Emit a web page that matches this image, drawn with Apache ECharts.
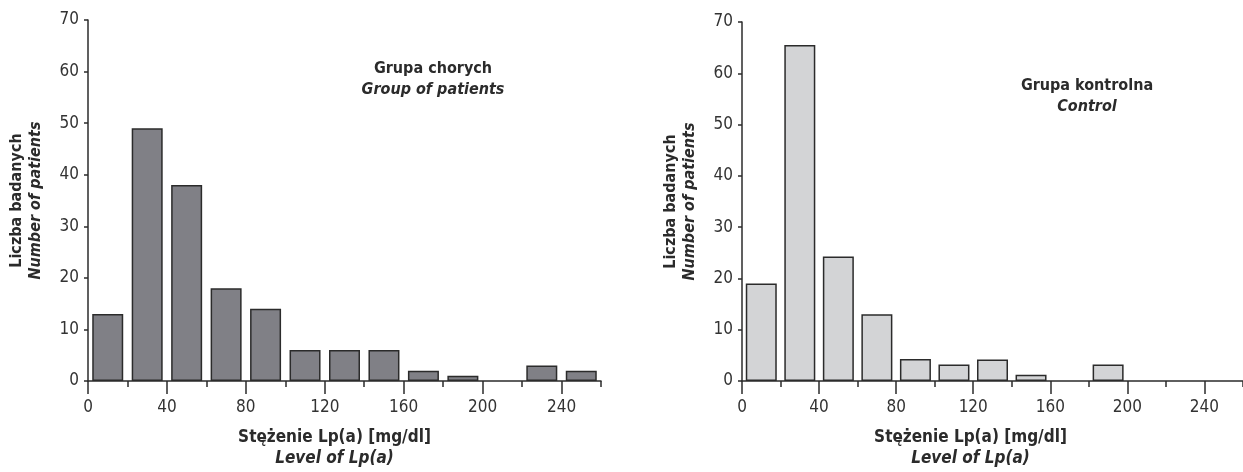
<!DOCTYPE html>
<html>
<head>
<meta charset="utf-8">
<script src="https://cdn.jsdelivr.net/npm/echarts@6/dist/echarts.min.js"></script>
<style>
  html, body { margin: 0; padding: 0; background: #fff; }
  #chartmain { width: 1243px; height: 472px; }
</style>
</head>
<body>
<div id="chartmain"></div>
<script>
// przedziały Lp(a) co 20 mg/dl, środek przedziału
var binCenters = [10, 30, 50, 70, 90, 110, 130, 150, 170, 190, 210, 230, 250];
// Grupa chorych
var patientCounts = [13, 49, 38, 18, 14, 6, 6, 6, 2, 1, 0, 3, 2];
// Grupa kontrolna
var controlCounts = [19, 65.5, 24.3, 13, 4.3, 3.2, 4.2, 1.2, 0, 3.2, 0, 0, 0];
// podpisy osi
var xMajorTicks = [0, 40, 80, 120, 160, 200, 240];
var xMinorTicks = [20, 60, 100, 140, 180, 220, 260];

var FONT = "'Liberation Sans Narrow', 'DejaVu Sans Condensed', 'Roboto Condensed', sans-serif";
var INK = '#2b2b2b';

function toPairs(counts) {
  // zero = brak słupka
  return binCenters.map(function (c, i) { return counts[i] > 0 ? [c, counts[i]] : [c, '-']; });
}

function majorX(grid, nameShift) {
  return {
    type: 'value', gridIndex: grid, min: 0, max: 260, position: 'bottom',
    axisLine: { show: true, lineStyle: { color: INK, width: 1.5 } },
    axisTick: { show: true, length: 13, customValues: xMajorTicks, lineStyle: { color: INK, width: 1.5 } },
    axisLabel: { customValues: xMajorTicks, margin: 18, fontFamily: FONT, fontSize: 17, color: '#333' },
    splitLine: { show: false },
    name: '{a|Stężenie Lp(a) [mg/dl]}\n{b|Level of Lp(a)}',
    nameLocation: 'middle', nameGap: 46,
    nameTextStyle: {
      padding: [0, nameShift, 0, 0],
      rich: {
        a: { fontFamily: FONT, fontSize: 17, fontWeight: 'bold', color: INK, lineHeight: 21, align: 'center' },
        b: { fontFamily: FONT, fontSize: 17, fontWeight: 'bold', fontStyle: 'italic', color: INK, lineHeight: 21, align: 'center' }
      }
    }
  };
}

function minorX(grid) {
  return {
    type: 'value', gridIndex: grid, min: 0, max: 260, position: 'bottom',
    axisLine: { show: false },
    axisTick: { show: true, length: 6, customValues: xMinorTicks, lineStyle: { color: INK, width: 1.5 } },
    axisLabel: { show: false },
    splitLine: { show: false }
  };
}

function leftY(grid) {
  return {
    type: 'value', gridIndex: grid, min: 0, max: 70, interval: 10,
    axisLine: { show: true, lineStyle: { color: INK, width: 1.5 } },
    axisTick: { show: true, length: 4, lineStyle: { color: INK, width: 1.5 } },
    axisLabel: { margin: 9, fontFamily: FONT, fontSize: 17, color: '#333' },
    splitLine: { show: false },
    name: '{a|Liczba badanych}\n{b|Number of patients}',
    nameLocation: 'middle', nameRotate: 90, nameGap: 43,
    nameTextStyle: {
      rich: {
        a: { fontFamily: FONT, fontSize: 16, fontWeight: 'bold', color: INK, lineHeight: 19, align: 'center' },
        b: { fontFamily: FONT, fontSize: 16, fontWeight: 'bold', fontStyle: 'italic', color: INK, lineHeight: 19, align: 'center' }
      }
    }
  };
}

var myChart = echarts.init(document.getElementById('chartmain'));
myChart.setOption({
  animation: false,
  backgroundColor: '#fff',
  title: [
    {
      text: 'Grupa chorych', subtext: 'Group of patients',
      left: 428, top: 56, textAlign: 'center', itemGap: 5,
      textStyle: { fontFamily: FONT, fontSize: 16, fontWeight: 'bold', color: INK },
      subtextStyle: { fontFamily: FONT, fontSize: 16, fontWeight: 'bold', fontStyle: 'italic', color: INK }
    },
    {
      text: 'Grupa kontrolna', subtext: 'Control',
      left: 1082, top: 73, textAlign: 'center', itemGap: 5,
      textStyle: { fontFamily: FONT, fontSize: 16, fontWeight: 'bold', color: INK },
      subtextStyle: { fontFamily: FONT, fontSize: 16, fontWeight: 'bold', fontStyle: 'italic', color: INK }
    }
  ],
  grid: [
    { left: 88, top: 20, width: 513, height: 362 },
    { left: 742, top: 22, width: 512, height: 361 }
  ],
  xAxis: [majorX(0, 20), minorX(0), majorX(1, 44), minorX(1)],
  yAxis: [leftY(0), leftY(1)],
  series: [
    {
      type: 'bar', name: 'Grupa chorych', xAxisIndex: 1, yAxisIndex: 0,
      barWidth: 31, data: toPairs(patientCounts),
      itemStyle: { color: '#808086', borderColor: INK, borderWidth: 1.5 }
    },
    {
      type: 'bar', name: 'Grupa kontrolna', xAxisIndex: 3, yAxisIndex: 1,
      barWidth: 31, data: toPairs(controlCounts),
      itemStyle: { color: '#d3d4d6', borderColor: INK, borderWidth: 1.5 }
    }
  ]
});
</script>
</body>
</html>
